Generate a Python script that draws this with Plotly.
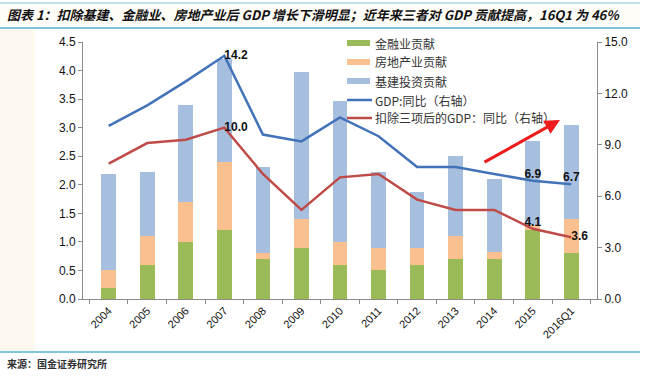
import plotly.graph_objects as go

categories = ["2004", "2005", "2006", "2007", "2008", "2009", "2010", "2011",
              "2012", "2013", "2014", "2015", "2016Q1"]
finance = [0.2, 0.6, 1.0, 1.2, 0.7, 0.9, 0.6, 0.5, 0.6, 0.7, 0.7, 1.2, 0.8]
real_estate = [0.3, 0.5, 0.7, 1.2, 0.1, 0.5, 0.4, 0.4, 0.3, 0.4, 0.13, 0.1, 0.6]
infra_top = [2.19, 2.22, 3.4, 4.2, 2.32, 3.98, 3.46, 2.22, 1.88, 2.5, 2.1, 2.77, 3.05]
infra = [round(t - f - r, 2) for t, f, r in zip(infra_top, finance, real_estate)]
gdp = [10.1, 11.3, 12.7, 14.2, 9.6, 9.2, 10.6, 9.5, 7.7, 7.7, 7.3, 6.9, 6.7]
gdp_ex = [7.9, 9.1, 9.3, 10.0, 7.3, 5.2, 7.1, 7.3, 5.8, 5.2, 5.2, 4.1, 3.6]
left_ticks = [0.0, 0.5, 1.0, 1.5, 2.0, 2.5, 3.0, 3.5, 4.0, 4.5]
right_ticks = [0.0, 3.0, 6.0, 9.0, 12.0, 15.0]

names = ["金融业贡献", "房地产业贡献", "基建投资贡献", "GDP:同比（右轴）", "扣除三项后的GDP：同比（右轴）"]
C_GREEN = "#9BBB59"
C_ORANGE = "#FAC090"
C_BLUE_BAR = "#A7BFDF"
C_BLUE_LINE = "#4272B8"
C_RED_LINE = "#BE4B48"

FONT = "Liberation Sans, Arial, Noto Sans CJK SC, sans-serif"
CJK = "Noto Sans CJK SC, Liberation Sans, sans-serif"

fig = go.Figure()
for vals, col, nm in [(finance, C_GREEN, names[0]), (real_estate, C_ORANGE, names[1]),
                      (infra, C_BLUE_BAR, names[2])]:
    fig.add_trace(go.Bar(x=categories, y=vals, name=nm, marker=dict(color=col, line=dict(width=0)),
                         yaxis="y", showlegend=False))

def labels(vals, keep):
    return [f"{v:.1f}" if i in keep else "" for i, v in enumerate(vals)]

n = len(categories)
gdp_pos = ["top center"] * n
gdp_pos[3] = "middle right"
ex_pos = ["top center"] * n
ex_pos[3] = "middle right"
ex_pos[12] = "middle right"

fig.add_trace(go.Scatter(x=categories, y=gdp, name=names[3], yaxis="y2", mode="lines+text",
                         line=dict(color=C_BLUE_LINE, width=2.5),
                         text=labels(gdp, {3, 11, 12}), textposition=gdp_pos,
                         textfont=dict(family=FONT, size=12, color="#111", weight="bold"),
                         showlegend=False))
fig.add_trace(go.Scatter(x=categories, y=gdp_ex, name=names[4], yaxis="y2", mode="lines+text",
                         line=dict(color=C_RED_LINE, width=2.5),
                         text=labels(gdp_ex, {3, 11, 12}), textposition=ex_pos,
                         textfont=dict(family=FONT, size=12, color="#111", weight="bold"),
                         showlegend=False))

# plot area in pixels: x 83..597, y 42..299
L, R, T, B = 83, 597, 42, 299
W, H = R - L, B - T
def px(x):
    return (x - L) / W
def py(y):
    return (B - y) / H

shapes = []
annotations = []
# left cream strip
shapes.append(dict(type="rect", xref="paper", yref="paper", x0=px(0), x1=px(35), y0=py(351), y1=py(29),
                   fillcolor="#FEF9EF", line=dict(width=0), layer="below"))
# title band
shapes.append(dict(type="rect", xref="paper", yref="paper", x0=px(0), x1=px(640), y0=py(28), y1=py(3),
                   fillcolor="#FFFDF8", line=dict(width=0), layer="below"))
shapes.append(dict(type="line", xref="paper", yref="paper", x0=px(0), x1=px(640), y0=py(3), y1=py(3),
                   line=dict(color="#7FC3DC", width=1)))
shapes.append(dict(type="line", xref="paper", yref="paper", x0=px(0), x1=px(640), y0=py(28), y1=py(28),
                   line=dict(color="#7FC3DC", width=2)))
shapes.append(dict(type="line", xref="paper", yref="paper", x0=px(0), x1=px(640), y0=py(352), y1=py(352),
                   line=dict(color="#7FC3DC", width=2)))

# custom legend
rows = [43, 62, 81, 100, 118]
sw_cols = [C_GREEN, C_ORANGE, C_BLUE_BAR, C_BLUE_LINE, C_RED_LINE]
for i, (ry, col, nm) in enumerate(zip(rows, sw_cols, names)):
    if i < 3:
        shapes.append(dict(type="rect", xref="paper", yref="paper", x0=px(347), x1=px(370),
                           y0=py(ry + 3), y1=py(ry - 3), fillcolor=col, line=dict(width=0)))
    else:
        shapes.append(dict(type="line", xref="paper", yref="paper", x0=px(347), x1=px(372),
                           y0=py(ry), y1=py(ry), line=dict(color=col, width=2.5)))
    annotations.append(dict(xref="paper", yref="paper", x=px(373), y=py(ry), text=nm, showarrow=False,
                            xanchor="left", yanchor="middle",
                            font=dict(family=CJK, size=12, color="#333")))

# red arrow
annotations.append(dict(xref="paper", yref="paper", x=px(560), y=py(120), ax=-77, ay=43,
                        axref="pixel", ayref="pixel", text="", showarrow=True,
                        arrowhead=2, arrowsize=1, arrowwidth=3, arrowcolor="#EE1C1C"))

# title and source
annotations.append(dict(xref="paper", yref="paper", x=px(5), y=py(15), xanchor="left", yanchor="middle",
                        text="<b><i>图表 1：扣除基建、金融业、房地产业后 GDP 增长下滑明显；近年来三者对 GDP 贡献提高，16Q1 为 46%</i></b>",
                        showarrow=False, font=dict(family=CJK, size=13, color="#111")))
annotations.append(dict(xref="paper", yref="paper", x=px(5), y=py(363), xanchor="left", yanchor="middle",
                        text="<b>来源：国金证券研究所</b>", showarrow=False,
                        font=dict(family=CJK, size=10, color="#333")))

axis_common = dict(showgrid=False, zeroline=False, showline=True, linecolor="#8C8C8C", linewidth=1,
                   ticks="outside", ticklen=4, tickcolor="#8C8C8C",
                   tickfont=dict(family=FONT, size=12, color="#111"))

fig.update_layout(
    width=649, height=377,
    margin=dict(l=L, r=649 - R, t=T, b=377 - B),
    paper_bgcolor="white", plot_bgcolor="white",
    barmode="stack", bargap=0.62,
    showlegend=False,
    shapes=shapes, annotations=annotations,
    xaxis=dict(type="category", tickangle=-45, tickson="boundaries", showgrid=False, zeroline=False,
               showline=True, linecolor="#8C8C8C", linewidth=1, ticks="outside", ticklen=4,
               tickcolor="#8C8C8C", tickfont=dict(family=FONT, size=11, color="#111")),
    yaxis=dict(range=[0, 4.5], tickvals=left_ticks, tickformat=".1f", **axis_common),
    yaxis2=dict(range=[0, 15], tickvals=right_ticks, tickformat=".1f", overlaying="y", side="right",
                **axis_common),
)

fig.write_html("out.html", config={"displayModeBar": False},
               post_script="document.body.style.margin='0';document.body.style.overflow='hidden';")
